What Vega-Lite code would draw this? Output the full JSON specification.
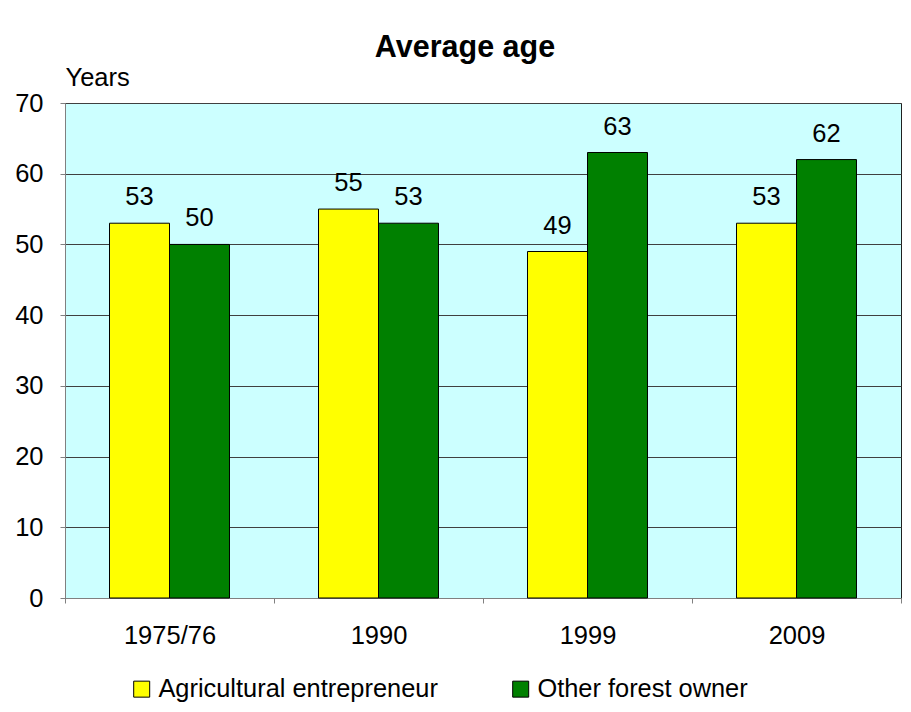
{
  "$schema": "https://vega.github.io/schema/vega-lite/v6.json",
  "width": 836,
  "height": 495,
  "autosize": {"type": "none"},
  "padding": {"left": 65, "top": 103, "right": 10, "bottom": 114},
  "background": "white",
  "title": {"text": "Average age", "font": "Liberation Sans", "fontSize": 30.5, "fontWeight": "bold", "color": "black", "anchor": "middle", "dx": -18, "offset": -28, "baseline": "bottom"},
  "data": {"values": [
    {"year": "1975/76", "series": "Agricultural entrepreneur", "value": 53},
    {"year": "1975/76", "series": "Other forest owner", "value": 50},
    {"year": "1990", "series": "Agricultural entrepreneur", "value": 55},
    {"year": "1990", "series": "Other forest owner", "value": 53},
    {"year": "1999", "series": "Agricultural entrepreneur", "value": 49},
    {"year": "1999", "series": "Other forest owner", "value": 63},
    {"year": "2009", "series": "Agricultural entrepreneur", "value": 53},
    {"year": "2009", "series": "Other forest owner", "value": 62}
  ]},
  "encoding": {
    "x": {"field": "year", "type": "nominal", "sort": ["1975/76", "1990", "1999", "2009"],
      "scale": {"paddingInner": 0, "paddingOuter": 0},
      "axis": {"title": null, "labelAngle": 0, "tickBand": "extent", "grid": false, "domainColor": "#808080", "tickColor": "#808080", "tickSize": 5, "labelFontSize": 25.5, "labelFont": "Liberation Sans", "labelColor": "black", "labelPadding": 20}},
    "xOffset": {"field": "series", "type": "nominal", "sort": ["Agricultural entrepreneur", "Other forest owner"],
      "scale": {"paddingInner": 0, "paddingOuter": 0.742}},
    "y": {"field": "value", "type": "quantitative",
      "scale": {"domain": [0, 70], "nice": false},
      "axis": {"title": "Years", "values": [0, 10, 20, 30, 40, 50, 60, 70], "grid": true, "gridColor": "#404040", "gridWidth": 1, "domainColor": "#808080", "tickColor": "#808080", "tickSize": 5, "labelFontSize": 25.5, "labelFont": "Liberation Sans", "labelColor": "black", "labelPadding": 17,
        "titleAngle": 0, "titleX": 0, "titleY": -18, "titleAlign": "left", "titleBaseline": "alphabetic", "titleFont": "Liberation Sans", "titleFontSize": 25.5, "titleFontWeight": "normal", "titleColor": "black"}}
  },
  "layer": [
    {"mark": {"type": "bar", "stroke": "black", "strokeWidth": 1},
     "encoding": {"color": {"field": "series", "type": "nominal",
        "scale": {"domain": ["Agricultural entrepreneur", "Other forest owner"], "range": ["#FFFF00", "#008000"]},
        "legend": {"title": null, "orient": "none", "legendX": 64, "legendY": 573, "direction": "horizontal", "symbolType": "square", "symbolSize": 256, "symbolStrokeColor": "black", "symbolStrokeWidth": 1, "symbolOpacity": 1, "labelFontSize": 25.4, "labelFont": "Liberation Sans", "labelColor": "black", "labelOffset": 4, "labelLimit": 0, "columnPadding": 70, "padding": 0}}}},
    {"mark": {"type": "text", "fontSize": 25.5, "font": "Liberation Sans", "color": "black", "baseline": "alphabetic", "dy": -18},
     "encoding": {"text": {"field": "value", "type": "quantitative"}}}
  ],
  "config": {"view": {"fill": "#CCFFFF", "stroke": "#202020", "strokeWidth": 1}}
}
